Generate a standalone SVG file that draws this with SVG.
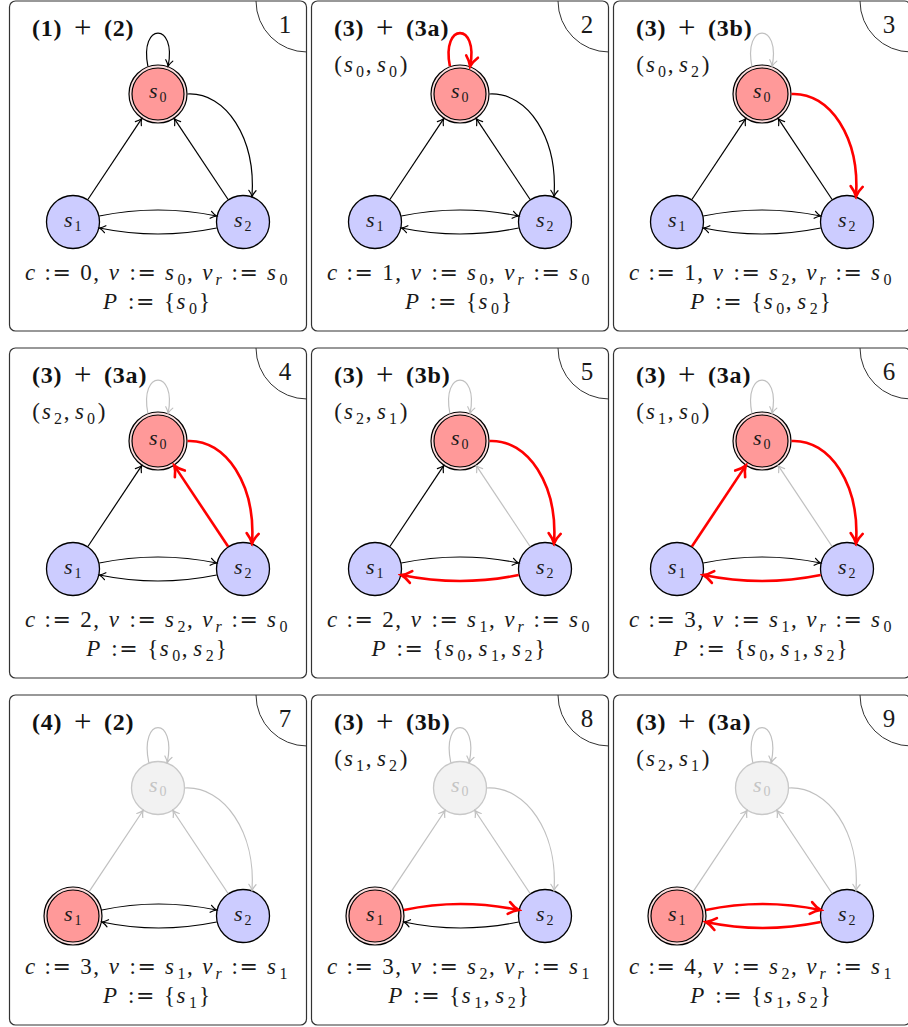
<svg xmlns="http://www.w3.org/2000/svg" width="908" height="1027" viewBox="0 0 908 1027">
<defs>
<style>
text{font-family:"Liberation Serif","DejaVu Serif",serif}
.m{font-size:23px;fill:#1a1a1a}
.i{font-style:italic}
.sb{font-size:16px}
.eq{font-family:"DejaVu Serif","Liberation Serif",serif;font-size:22px}
.t{font-size:24px;font-weight:bold;fill:#111;letter-spacing:0.8px}
.pl{font-weight:normal;font-size:31px;letter-spacing:0}
.num{font-size:25px;fill:#1a1a1a;text-anchor:middle}
.nl{font-size:22px;font-style:italic;fill:#1a1a1a}
.ns{font-size:14px;font-style:normal}
.gt{fill:#c4c4c4}
.e{fill:none}
.k{stroke:#000;stroke-width:1.2;marker-end:url(#ak)}
.g{stroke:#c0c0c0;stroke-width:1.2;marker-end:url(#ag)}
.r{stroke:#f00;stroke-width:2.6;marker-end:url(#ar)}
.nb{fill:#ccccff;stroke:#000;stroke-width:1.3}
.ng{fill:#f2f2f2;stroke:#c8c8c8;stroke-width:1.3}
.na{fill:#ff9999;stroke:#000;stroke-width:4.2}
.nac{fill:none;stroke:#fcdede;stroke-width:1.8}
</style>
<marker id="ak" viewBox="-8 -5 10 10" refX="0" refY="0" markerWidth="10" markerHeight="10" orient="auto" markerUnits="userSpaceOnUse"><path d="M-6,-3.6 C-3.5,-1.5 -1.5,-0.5 0,0 C-1.5,0.5 -3.5,1.5 -6,3.6" fill="none" stroke="#000" stroke-width="1.2" stroke-linecap="round"/></marker>
<marker id="ag" viewBox="-8 -5 10 10" refX="0" refY="0" markerWidth="10" markerHeight="10" orient="auto" markerUnits="userSpaceOnUse"><path d="M-6,-3.6 C-3.5,-1.5 -1.5,-0.5 0,0 C-1.5,0.5 -3.5,1.5 -6,3.6" fill="none" stroke="#c0c0c0" stroke-width="1.2" stroke-linecap="round"/></marker>
<marker id="ar" viewBox="-13 -8 16 16" refX="0" refY="0" markerWidth="16" markerHeight="16" orient="auto" markerUnits="userSpaceOnUse"><path d="M-10,-6 C-6,-2.5 -2.5,-0.8 0,0 C-2.5,0.8 -6,2.5 -10,6" fill="none" stroke="#f00" stroke-width="2.6" stroke-linecap="round"/></marker>
<g id="frame"><rect x="9.5" y="1" width="297" height="330" rx="6" fill="#fff" stroke="#333" stroke-width="1.2"/><path d="M256,1 A51,51 0 0 0 307,52" fill="none" stroke="#333" stroke-width="1"/></g>
</defs>
<rect width="908" height="1027" fill="#fff"/>

<!-- Panel 1 -->
<g id="panel1" transform="translate(0,0)">
<use href="#frame"/>
<text class="num" x="285" y="33">1</text>
<text class="t" y="36"><tspan x="32">(1)</tspan><tspan class="pl" x="74" y="38">+</tspan><tspan x="104" y="36">(2)</tspan></text>
<g id="p1-s0"><circle class="na" cx="158" cy="94" r="27.5"/><circle class="nac" cx="158" cy="94" r="27.5"/><text class="nl" y="98"><tspan x="149">s</tspan><tspan class="ns" x="159.5" y="102">0</tspan></text></g>
<g id="p1-s1"><circle class="nb" cx="73" cy="222" r="26.5"/><text class="nl" y="226.5"><tspan x="64">s</tspan><tspan class="ns" x="74.5" y="230.5">1</tspan></text></g>
<g id="p1-s2"><circle class="nb" cx="243" cy="222" r="26.5"/><text class="nl" y="226.5"><tspan x="234">s</tspan><tspan class="ns" x="244.5" y="230.5">2</tspan></text></g>
<g id="p1-edges" class="e">
<path class="k" d="M147.9,66.3 C139,22 177,22 168.1,66.3"/>
<path class="k" d="M87.9,199.5 L141.7,118.6"/>
<path class="k" d="M228.1,199.5 L174.3,118.6"/>
<path class="k" d="M187.5,94 C226,92 256,138 252,196.5"/>
<path class="k" d="M99.3,216 Q158,204 216.7,216"/>
<path class="k" d="M216.7,228 Q158,240 99.3,228"/>
</g>
<text class="m" y="280"><tspan class="i" x="25">c</tspan><tspan x="44.4">:</tspan><tspan class="eq" x="52.4">=</tspan><tspan x="80.2">0</tspan><tspan x="93.3">,</tspan><tspan class="i" x="108.7">v</tspan><tspan x="129.5">:</tspan><tspan class="eq" x="137.5">=</tspan><tspan class="i" x="165">s</tspan><tspan class="sb" x="177.4" y="285">0</tspan><tspan x="186.9" y="280">,</tspan><tspan class="i" x="202.3">v</tspan><tspan class="i sb" x="215.5" y="285">r</tspan><tspan x="231.5" y="280">:</tspan><tspan class="eq" x="239.5">=</tspan><tspan class="i" x="267">s</tspan><tspan class="sb" x="279.4" y="285">0</tspan></text>
<text class="m" y="309"><tspan class="i" x="103">P</tspan><tspan x="127.9">:</tspan><tspan class="eq" x="135.9">=</tspan><tspan x="163.9">{</tspan><tspan class="i" x="176.5">s</tspan><tspan class="sb" x="189" y="314">0</tspan><tspan x="198.9" y="309">}</tspan></text>
</g>

<!-- Panel 2 -->
<g id="panel2" transform="translate(302,0)">
<use href="#frame"/>
<text class="num" x="285" y="33">2</text>
<text class="t" y="36"><tspan x="32">(3)</tspan><tspan class="pl" x="74" y="38">+</tspan><tspan x="104" y="36">(3a)</tspan></text>
<text class="m" y="72"><tspan x="32.3">(</tspan><tspan class="i" x="42">s</tspan><tspan class="sb" x="53.9" y="77">0</tspan><tspan x="63.8" y="72">,</tspan><tspan class="i" x="75">s</tspan><tspan class="sb" x="87" y="77">0</tspan><tspan x="97.8" y="72">)</tspan></text>
<g id="p2-s0"><circle class="na" cx="158" cy="94" r="27.5"/><circle class="nac" cx="158" cy="94" r="27.5"/><text class="nl" y="98"><tspan x="149">s</tspan><tspan class="ns" x="159.5" y="102">0</tspan></text></g>
<g id="p2-s1"><circle class="nb" cx="73" cy="222" r="26.5"/><text class="nl" y="226.5"><tspan x="64">s</tspan><tspan class="ns" x="74.5" y="230.5">1</tspan></text></g>
<g id="p2-s2"><circle class="nb" cx="243" cy="222" r="26.5"/><text class="nl" y="226.5"><tspan x="234">s</tspan><tspan class="ns" x="244.5" y="230.5">2</tspan></text></g>
<g id="p2-edges" class="e">
<path class="r" d="M147.9,66.3 C139,22 177,22 168.1,66.3"/>
<path class="k" d="M87.9,199.5 L141.7,118.6"/>
<path class="k" d="M228.1,199.5 L174.3,118.6"/>
<path class="k" d="M187.5,94 C226,92 256,138 252,196.5"/>
<path class="k" d="M99.3,216 Q158,204 216.7,216"/>
<path class="k" d="M216.7,228 Q158,240 99.3,228"/>
</g>
<text class="m" y="280"><tspan class="i" x="25">c</tspan><tspan x="44.4">:</tspan><tspan class="eq" x="52.4">=</tspan><tspan x="80.2">1</tspan><tspan x="93.3">,</tspan><tspan class="i" x="108.7">v</tspan><tspan x="129.5">:</tspan><tspan class="eq" x="137.5">=</tspan><tspan class="i" x="165">s</tspan><tspan class="sb" x="177.4" y="285">0</tspan><tspan x="186.9" y="280">,</tspan><tspan class="i" x="202.3">v</tspan><tspan class="i sb" x="215.5" y="285">r</tspan><tspan x="231.5" y="280">:</tspan><tspan class="eq" x="239.5">=</tspan><tspan class="i" x="267">s</tspan><tspan class="sb" x="279.4" y="285">0</tspan></text>
<text class="m" y="309"><tspan class="i" x="103">P</tspan><tspan x="127.9">:</tspan><tspan class="eq" x="135.9">=</tspan><tspan x="163.9">{</tspan><tspan class="i" x="176.5">s</tspan><tspan class="sb" x="189" y="314">0</tspan><tspan x="198.9" y="309">}</tspan></text>
</g>

<!-- Panel 3 -->
<g id="panel3" transform="translate(604,0)">
<use href="#frame"/>
<text class="num" x="285" y="33">3</text>
<text class="t" y="36"><tspan x="32">(3)</tspan><tspan class="pl" x="74" y="38">+</tspan><tspan x="104" y="36">(3b)</tspan></text>
<text class="m" y="72"><tspan x="32.3">(</tspan><tspan class="i" x="42">s</tspan><tspan class="sb" x="53.9" y="77">0</tspan><tspan x="63.8" y="72">,</tspan><tspan class="i" x="75">s</tspan><tspan class="sb" x="87" y="77">2</tspan><tspan x="97.8" y="72">)</tspan></text>
<g id="p3-s0"><circle class="na" cx="158" cy="94" r="27.5"/><circle class="nac" cx="158" cy="94" r="27.5"/><text class="nl" y="98"><tspan x="149">s</tspan><tspan class="ns" x="159.5" y="102">0</tspan></text></g>
<g id="p3-s1"><circle class="nb" cx="73" cy="222" r="26.5"/><text class="nl" y="226.5"><tspan x="64">s</tspan><tspan class="ns" x="74.5" y="230.5">1</tspan></text></g>
<g id="p3-s2"><circle class="nb" cx="243" cy="222" r="26.5"/><text class="nl" y="226.5"><tspan x="234">s</tspan><tspan class="ns" x="244.5" y="230.5">2</tspan></text></g>
<g id="p3-edges" class="e">
<path class="g" d="M147.9,66.3 C139,22 177,22 168.1,66.3"/>
<path class="k" d="M87.9,199.5 L141.7,118.6"/>
<path class="k" d="M228.1,199.5 L174.3,118.6"/>
<path class="r" d="M187.5,94 C226,92 256,138 252,196.5"/>
<path class="k" d="M99.3,216 Q158,204 216.7,216"/>
<path class="k" d="M216.7,228 Q158,240 99.3,228"/>
</g>
<text class="m" y="280"><tspan class="i" x="25">c</tspan><tspan x="44.4">:</tspan><tspan class="eq" x="52.4">=</tspan><tspan x="80.2">1</tspan><tspan x="93.3">,</tspan><tspan class="i" x="108.7">v</tspan><tspan x="129.5">:</tspan><tspan class="eq" x="137.5">=</tspan><tspan class="i" x="165">s</tspan><tspan class="sb" x="177.4" y="285">2</tspan><tspan x="186.9" y="280">,</tspan><tspan class="i" x="202.3">v</tspan><tspan class="i sb" x="215.5" y="285">r</tspan><tspan x="231.5" y="280">:</tspan><tspan class="eq" x="239.5">=</tspan><tspan class="i" x="267">s</tspan><tspan class="sb" x="279.4" y="285">0</tspan></text>
<text class="m" y="309"><tspan class="i" x="86.3">P</tspan><tspan x="111.2">:</tspan><tspan class="eq" x="119.2">=</tspan><tspan x="147.2">{</tspan><tspan class="i" x="159.8">s</tspan><tspan class="sb" x="172.3" y="314">0</tspan><tspan x="181.8" y="309">,</tspan><tspan class="i" x="193.3">s</tspan><tspan class="sb" x="205.8" y="314">2</tspan><tspan x="215.7" y="309">}</tspan></text>
</g>

<!-- Panel 4 -->
<g id="panel4" transform="translate(0,347)">
<use href="#frame"/>
<text class="num" x="285" y="33">4</text>
<text class="t" y="36"><tspan x="32">(3)</tspan><tspan class="pl" x="74" y="38">+</tspan><tspan x="104" y="36">(3a)</tspan></text>
<text class="m" y="72"><tspan x="32.3">(</tspan><tspan class="i" x="42">s</tspan><tspan class="sb" x="53.9" y="77">2</tspan><tspan x="63.8" y="72">,</tspan><tspan class="i" x="75">s</tspan><tspan class="sb" x="87" y="77">0</tspan><tspan x="97.8" y="72">)</tspan></text>
<g id="p4-s0"><circle class="na" cx="158" cy="94" r="27.5"/><circle class="nac" cx="158" cy="94" r="27.5"/><text class="nl" y="98"><tspan x="149">s</tspan><tspan class="ns" x="159.5" y="102">0</tspan></text></g>
<g id="p4-s1"><circle class="nb" cx="73" cy="222" r="26.5"/><text class="nl" y="226.5"><tspan x="64">s</tspan><tspan class="ns" x="74.5" y="230.5">1</tspan></text></g>
<g id="p4-s2"><circle class="nb" cx="243" cy="222" r="26.5"/><text class="nl" y="226.5"><tspan x="234">s</tspan><tspan class="ns" x="244.5" y="230.5">2</tspan></text></g>
<g id="p4-edges" class="e">
<path class="g" d="M147.9,66.3 C139,22 177,22 168.1,66.3"/>
<path class="k" d="M87.9,199.5 L141.7,118.6"/>
<path class="r" d="M228.1,199.5 L174.3,118.6"/>
<path class="r" d="M187.5,94 C226,92 256,138 252,196.5"/>
<path class="k" d="M99.3,216 Q158,204 216.7,216"/>
<path class="k" d="M216.7,228 Q158,240 99.3,228"/>
</g>
<text class="m" y="280"><tspan class="i" x="25">c</tspan><tspan x="44.4">:</tspan><tspan class="eq" x="52.4">=</tspan><tspan x="80.2">2</tspan><tspan x="93.3">,</tspan><tspan class="i" x="108.7">v</tspan><tspan x="129.5">:</tspan><tspan class="eq" x="137.5">=</tspan><tspan class="i" x="165">s</tspan><tspan class="sb" x="177.4" y="285">2</tspan><tspan x="186.9" y="280">,</tspan><tspan class="i" x="202.3">v</tspan><tspan class="i sb" x="215.5" y="285">r</tspan><tspan x="231.5" y="280">:</tspan><tspan class="eq" x="239.5">=</tspan><tspan class="i" x="267">s</tspan><tspan class="sb" x="279.4" y="285">0</tspan></text>
<text class="m" y="309"><tspan class="i" x="86.3">P</tspan><tspan x="111.2">:</tspan><tspan class="eq" x="119.2">=</tspan><tspan x="147.2">{</tspan><tspan class="i" x="159.8">s</tspan><tspan class="sb" x="172.3" y="314">0</tspan><tspan x="181.8" y="309">,</tspan><tspan class="i" x="193.3">s</tspan><tspan class="sb" x="205.8" y="314">2</tspan><tspan x="215.7" y="309">}</tspan></text>
</g>

<!-- Panel 5 -->
<g id="panel5" transform="translate(302,347)">
<use href="#frame"/>
<text class="num" x="285" y="33">5</text>
<text class="t" y="36"><tspan x="32">(3)</tspan><tspan class="pl" x="74" y="38">+</tspan><tspan x="104" y="36">(3b)</tspan></text>
<text class="m" y="72"><tspan x="32.3">(</tspan><tspan class="i" x="42">s</tspan><tspan class="sb" x="53.9" y="77">2</tspan><tspan x="63.8" y="72">,</tspan><tspan class="i" x="75">s</tspan><tspan class="sb" x="87" y="77">1</tspan><tspan x="97.8" y="72">)</tspan></text>
<g id="p5-s0"><circle class="na" cx="158" cy="94" r="27.5"/><circle class="nac" cx="158" cy="94" r="27.5"/><text class="nl" y="98"><tspan x="149">s</tspan><tspan class="ns" x="159.5" y="102">0</tspan></text></g>
<g id="p5-s1"><circle class="nb" cx="73" cy="222" r="26.5"/><text class="nl" y="226.5"><tspan x="64">s</tspan><tspan class="ns" x="74.5" y="230.5">1</tspan></text></g>
<g id="p5-s2"><circle class="nb" cx="243" cy="222" r="26.5"/><text class="nl" y="226.5"><tspan x="234">s</tspan><tspan class="ns" x="244.5" y="230.5">2</tspan></text></g>
<g id="p5-edges" class="e">
<path class="g" d="M147.9,66.3 C139,22 177,22 168.1,66.3"/>
<path class="k" d="M87.9,199.5 L141.7,118.6"/>
<path class="g" d="M228.1,199.5 L174.3,118.6"/>
<path class="r" d="M187.5,94 C226,92 256,138 252,196.5"/>
<path class="k" d="M99.3,216 Q158,204 216.7,216"/>
<path class="r" d="M216.7,228 Q158,240 99.3,228"/>
</g>
<text class="m" y="280"><tspan class="i" x="25">c</tspan><tspan x="44.4">:</tspan><tspan class="eq" x="52.4">=</tspan><tspan x="80.2">2</tspan><tspan x="93.3">,</tspan><tspan class="i" x="108.7">v</tspan><tspan x="129.5">:</tspan><tspan class="eq" x="137.5">=</tspan><tspan class="i" x="165">s</tspan><tspan class="sb" x="177.4" y="285">1</tspan><tspan x="186.9" y="280">,</tspan><tspan class="i" x="202.3">v</tspan><tspan class="i sb" x="215.5" y="285">r</tspan><tspan x="231.5" y="280">:</tspan><tspan class="eq" x="239.5">=</tspan><tspan class="i" x="267">s</tspan><tspan class="sb" x="279.4" y="285">0</tspan></text>
<text class="m" y="309"><tspan class="i" x="69.5">P</tspan><tspan x="94.4">:</tspan><tspan class="eq" x="102.4">=</tspan><tspan x="130.4">{</tspan><tspan class="i" x="143">s</tspan><tspan class="sb" x="155.5" y="314">0</tspan><tspan x="165" y="309">,</tspan><tspan class="i" x="176.5">s</tspan><tspan class="sb" x="189" y="314">1</tspan><tspan x="198.5" y="309">,</tspan><tspan class="i" x="210">s</tspan><tspan class="sb" x="222.5" y="314">2</tspan><tspan x="232.4" y="309">}</tspan></text>
</g>

<!-- Panel 6 -->
<g id="panel6" transform="translate(604,347)">
<use href="#frame"/>
<text class="num" x="285" y="33">6</text>
<text class="t" y="36"><tspan x="32">(3)</tspan><tspan class="pl" x="74" y="38">+</tspan><tspan x="104" y="36">(3a)</tspan></text>
<text class="m" y="72"><tspan x="32.3">(</tspan><tspan class="i" x="42">s</tspan><tspan class="sb" x="53.9" y="77">1</tspan><tspan x="63.8" y="72">,</tspan><tspan class="i" x="75">s</tspan><tspan class="sb" x="87" y="77">0</tspan><tspan x="97.8" y="72">)</tspan></text>
<g id="p6-s0"><circle class="na" cx="158" cy="94" r="27.5"/><circle class="nac" cx="158" cy="94" r="27.5"/><text class="nl" y="98"><tspan x="149">s</tspan><tspan class="ns" x="159.5" y="102">0</tspan></text></g>
<g id="p6-s1"><circle class="nb" cx="73" cy="222" r="26.5"/><text class="nl" y="226.5"><tspan x="64">s</tspan><tspan class="ns" x="74.5" y="230.5">1</tspan></text></g>
<g id="p6-s2"><circle class="nb" cx="243" cy="222" r="26.5"/><text class="nl" y="226.5"><tspan x="234">s</tspan><tspan class="ns" x="244.5" y="230.5">2</tspan></text></g>
<g id="p6-edges" class="e">
<path class="g" d="M147.9,66.3 C139,22 177,22 168.1,66.3"/>
<path class="r" d="M87.9,199.5 L141.7,118.6"/>
<path class="g" d="M228.1,199.5 L174.3,118.6"/>
<path class="r" d="M187.5,94 C226,92 256,138 252,196.5"/>
<path class="k" d="M99.3,216 Q158,204 216.7,216"/>
<path class="r" d="M216.7,228 Q158,240 99.3,228"/>
</g>
<text class="m" y="280"><tspan class="i" x="25">c</tspan><tspan x="44.4">:</tspan><tspan class="eq" x="52.4">=</tspan><tspan x="80.2">3</tspan><tspan x="93.3">,</tspan><tspan class="i" x="108.7">v</tspan><tspan x="129.5">:</tspan><tspan class="eq" x="137.5">=</tspan><tspan class="i" x="165">s</tspan><tspan class="sb" x="177.4" y="285">1</tspan><tspan x="186.9" y="280">,</tspan><tspan class="i" x="202.3">v</tspan><tspan class="i sb" x="215.5" y="285">r</tspan><tspan x="231.5" y="280">:</tspan><tspan class="eq" x="239.5">=</tspan><tspan class="i" x="267">s</tspan><tspan class="sb" x="279.4" y="285">0</tspan></text>
<text class="m" y="309"><tspan class="i" x="69.5">P</tspan><tspan x="94.4">:</tspan><tspan class="eq" x="102.4">=</tspan><tspan x="130.4">{</tspan><tspan class="i" x="143">s</tspan><tspan class="sb" x="155.5" y="314">0</tspan><tspan x="165" y="309">,</tspan><tspan class="i" x="176.5">s</tspan><tspan class="sb" x="189" y="314">1</tspan><tspan x="198.5" y="309">,</tspan><tspan class="i" x="210">s</tspan><tspan class="sb" x="222.5" y="314">2</tspan><tspan x="232.4" y="309">}</tspan></text>
</g>

<!-- Panel 7 -->
<g id="panel7" transform="translate(0,694)">
<use href="#frame"/>
<text class="num" x="285" y="33">7</text>
<text class="t" y="36"><tspan x="32">(4)</tspan><tspan class="pl" x="74" y="38">+</tspan><tspan x="104" y="36">(2)</tspan></text>
<g id="p7-s0"><circle class="ng" cx="158" cy="94" r="26.5"/><text class="nl gt" y="98"><tspan x="149">s</tspan><tspan class="ns" x="159.5" y="102">0</tspan></text></g>
<g id="p7-s1"><circle class="na" cx="73" cy="222" r="27.5"/><circle class="nac" cx="73" cy="222" r="27.5"/><text class="nl" y="226.5"><tspan x="64">s</tspan><tspan class="ns" x="74.5" y="230.5">1</tspan></text></g>
<g id="p7-s2"><circle class="nb" cx="243" cy="222" r="26.5"/><text class="nl" y="226.5"><tspan x="234">s</tspan><tspan class="ns" x="244.5" y="230.5">2</tspan></text></g>
<g id="p7-edges" class="e">
<path class="g" d="M148.8,68.6 C139,22 177,22 167.2,68.6"/>
<path class="g" d="M89.3,197.4 L143.1,116.5"/>
<path class="g" d="M228.1,199.5 L172.9,116.5"/>
<path class="g" d="M185,94 C224,92 256,138 252,196.5"/>
<path class="k" d="M101.9,216 Q158,204 216.7,216"/>
<path class="k" d="M216.7,228 Q158,240 101.9,228"/>
</g>
<text class="m" y="280"><tspan class="i" x="25">c</tspan><tspan x="44.4">:</tspan><tspan class="eq" x="52.4">=</tspan><tspan x="80.2">3</tspan><tspan x="93.3">,</tspan><tspan class="i" x="108.7">v</tspan><tspan x="129.5">:</tspan><tspan class="eq" x="137.5">=</tspan><tspan class="i" x="165">s</tspan><tspan class="sb" x="177.4" y="285">1</tspan><tspan x="186.9" y="280">,</tspan><tspan class="i" x="202.3">v</tspan><tspan class="i sb" x="215.5" y="285">r</tspan><tspan x="231.5" y="280">:</tspan><tspan class="eq" x="239.5">=</tspan><tspan class="i" x="267">s</tspan><tspan class="sb" x="279.4" y="285">1</tspan></text>
<text class="m" y="309"><tspan class="i" x="103">P</tspan><tspan x="127.9">:</tspan><tspan class="eq" x="135.9">=</tspan><tspan x="163.9">{</tspan><tspan class="i" x="176.5">s</tspan><tspan class="sb" x="189" y="314">1</tspan><tspan x="198.9" y="309">}</tspan></text>
</g>

<!-- Panel 8 -->
<g id="panel8" transform="translate(302,694)">
<use href="#frame"/>
<text class="num" x="285" y="33">8</text>
<text class="t" y="36"><tspan x="32">(3)</tspan><tspan class="pl" x="74" y="38">+</tspan><tspan x="104" y="36">(3b)</tspan></text>
<text class="m" y="72"><tspan x="32.3">(</tspan><tspan class="i" x="42">s</tspan><tspan class="sb" x="53.9" y="77">1</tspan><tspan x="63.8" y="72">,</tspan><tspan class="i" x="75">s</tspan><tspan class="sb" x="87" y="77">2</tspan><tspan x="97.8" y="72">)</tspan></text>
<g id="p8-s0"><circle class="ng" cx="158" cy="94" r="26.5"/><text class="nl gt" y="98"><tspan x="149">s</tspan><tspan class="ns" x="159.5" y="102">0</tspan></text></g>
<g id="p8-s1"><circle class="na" cx="73" cy="222" r="27.5"/><circle class="nac" cx="73" cy="222" r="27.5"/><text class="nl" y="226.5"><tspan x="64">s</tspan><tspan class="ns" x="74.5" y="230.5">1</tspan></text></g>
<g id="p8-s2"><circle class="nb" cx="243" cy="222" r="26.5"/><text class="nl" y="226.5"><tspan x="234">s</tspan><tspan class="ns" x="244.5" y="230.5">2</tspan></text></g>
<g id="p8-edges" class="e">
<path class="g" d="M148.8,68.6 C139,22 177,22 167.2,68.6"/>
<path class="g" d="M89.3,197.4 L143.1,116.5"/>
<path class="g" d="M228.1,199.5 L172.9,116.5"/>
<path class="g" d="M185,94 C224,92 256,138 252,196.5"/>
<path class="r" d="M101.9,216 Q158,204 216.7,216"/>
<path class="k" d="M216.7,228 Q158,240 101.9,228"/>
</g>
<text class="m" y="280"><tspan class="i" x="25">c</tspan><tspan x="44.4">:</tspan><tspan class="eq" x="52.4">=</tspan><tspan x="80.2">3</tspan><tspan x="93.3">,</tspan><tspan class="i" x="108.7">v</tspan><tspan x="129.5">:</tspan><tspan class="eq" x="137.5">=</tspan><tspan class="i" x="165">s</tspan><tspan class="sb" x="177.4" y="285">2</tspan><tspan x="186.9" y="280">,</tspan><tspan class="i" x="202.3">v</tspan><tspan class="i sb" x="215.5" y="285">r</tspan><tspan x="231.5" y="280">:</tspan><tspan class="eq" x="239.5">=</tspan><tspan class="i" x="267">s</tspan><tspan class="sb" x="279.4" y="285">1</tspan></text>
<text class="m" y="309"><tspan class="i" x="86.3">P</tspan><tspan x="111.2">:</tspan><tspan class="eq" x="119.2">=</tspan><tspan x="147.2">{</tspan><tspan class="i" x="159.8">s</tspan><tspan class="sb" x="172.3" y="314">1</tspan><tspan x="181.8" y="309">,</tspan><tspan class="i" x="193.3">s</tspan><tspan class="sb" x="205.8" y="314">2</tspan><tspan x="215.7" y="309">}</tspan></text>
</g>

<!-- Panel 9 -->
<g id="panel9" transform="translate(604,694)">
<use href="#frame"/>
<text class="num" x="285" y="33">9</text>
<text class="t" y="36"><tspan x="32">(3)</tspan><tspan class="pl" x="74" y="38">+</tspan><tspan x="104" y="36">(3a)</tspan></text>
<text class="m" y="72"><tspan x="32.3">(</tspan><tspan class="i" x="42">s</tspan><tspan class="sb" x="53.9" y="77">2</tspan><tspan x="63.8" y="72">,</tspan><tspan class="i" x="75">s</tspan><tspan class="sb" x="87" y="77">1</tspan><tspan x="97.8" y="72">)</tspan></text>
<g id="p9-s0"><circle class="ng" cx="158" cy="94" r="26.5"/><text class="nl gt" y="98"><tspan x="149">s</tspan><tspan class="ns" x="159.5" y="102">0</tspan></text></g>
<g id="p9-s1"><circle class="na" cx="73" cy="222" r="27.5"/><circle class="nac" cx="73" cy="222" r="27.5"/><text class="nl" y="226.5"><tspan x="64">s</tspan><tspan class="ns" x="74.5" y="230.5">1</tspan></text></g>
<g id="p9-s2"><circle class="nb" cx="243" cy="222" r="26.5"/><text class="nl" y="226.5"><tspan x="234">s</tspan><tspan class="ns" x="244.5" y="230.5">2</tspan></text></g>
<g id="p9-edges" class="e">
<path class="g" d="M148.8,68.6 C139,22 177,22 167.2,68.6"/>
<path class="g" d="M89.3,197.4 L143.1,116.5"/>
<path class="g" d="M228.1,199.5 L172.9,116.5"/>
<path class="g" d="M185,94 C224,92 256,138 252,196.5"/>
<path class="r" d="M101.9,216 Q158,204 216.7,216"/>
<path class="r" d="M216.7,228 Q158,240 101.9,228"/>
</g>
<text class="m" y="280"><tspan class="i" x="25">c</tspan><tspan x="44.4">:</tspan><tspan class="eq" x="52.4">=</tspan><tspan x="80.2">4</tspan><tspan x="93.3">,</tspan><tspan class="i" x="108.7">v</tspan><tspan x="129.5">:</tspan><tspan class="eq" x="137.5">=</tspan><tspan class="i" x="165">s</tspan><tspan class="sb" x="177.4" y="285">2</tspan><tspan x="186.9" y="280">,</tspan><tspan class="i" x="202.3">v</tspan><tspan class="i sb" x="215.5" y="285">r</tspan><tspan x="231.5" y="280">:</tspan><tspan class="eq" x="239.5">=</tspan><tspan class="i" x="267">s</tspan><tspan class="sb" x="279.4" y="285">1</tspan></text>
<text class="m" y="309"><tspan class="i" x="86.3">P</tspan><tspan x="111.2">:</tspan><tspan class="eq" x="119.2">=</tspan><tspan x="147.2">{</tspan><tspan class="i" x="159.8">s</tspan><tspan class="sb" x="172.3" y="314">1</tspan><tspan x="181.8" y="309">,</tspan><tspan class="i" x="193.3">s</tspan><tspan class="sb" x="205.8" y="314">2</tspan><tspan x="215.7" y="309">}</tspan></text>
</g>
</svg>
